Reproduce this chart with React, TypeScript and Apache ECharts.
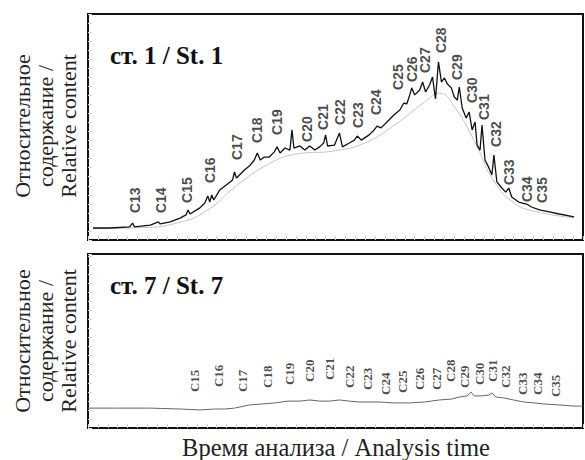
import React, { useEffect, useRef } from "react";
import * as echarts from "echarts";

// Station 1 chromatogram trace: [time (min), relative content]
const st1Time = [0.5, 2.2, 4.2, 4.5, 4.7, 6.3, 7.1, 7.3, 8.3, 9.3, 9.9, 10.1, 10.3, 11.3, 11.8, 12.1, 12.3, 12.5, 12.7, 13.3, 14.1, 14.6, 14.8, 15.0, 15.8, 16.3, 16.8, 17.1, 17.4, 17.8, 18.3, 18.8, 19.1, 19.4, 19.9, 20.4, 20.6, 20.8, 21.4, 21.9, 22.4, 22.9, 23.4, 23.8, 24.0, 24.2, 24.9, 25.4, 25.7, 26.4, 26.9, 27.2, 27.6, 28.4, 28.9, 29.2, 29.6, 30.4, 30.9, 31.5, 31.9, 32.2, 32.5, 32.7, 33.0, 33.5, 33.8, 34.1, 34.5, 34.8, 35.1, 35.4, 35.7, 36.0, 36.3, 36.7, 37.0, 37.3, 37.5, 37.8, 38.2, 38.5, 38.8, 39.1, 39.3, 39.6, 39.8, 40.1, 40.5, 40.8, 41.0, 41.3, 41.8, 42.2, 42.5, 42.8, 43.5, 44.3, 44.8, 45.6, 46.6, 47.6, 49.1];
const st1Value = [5.3, 5.3, 5.8, 7.5, 5.8, 6.6, 8.0, 7.1, 8.0, 9.7, 11.1, 13.3, 11.5, 14.2, 16.4, 19.5, 16.8, 19.9, 17.7, 22.1, 24.8, 26.5, 30.1, 27.4, 31.0, 32.7, 35.4, 38.5, 35.4, 36.7, 36.7, 38.9, 41.2, 38.5, 40.7, 39.8, 48.7, 40.7, 41.6, 39.8, 41.6, 39.8, 41.2, 42.9, 46.5, 41.6, 42.0, 47.3, 41.2, 42.9, 44.2, 46.0, 44.2, 46.5, 48.7, 50.4, 49.6, 53.1, 55.3, 57.5, 60.6, 60.2, 64.2, 67.3, 64.2, 66.4, 69.9, 65.5, 68.6, 72.1, 62.4, 78.8, 69.9, 71.7, 69.0, 67.3, 63.3, 61.9, 67.7, 58.4, 54.0, 56.6, 48.7, 52.2, 42.0, 39.8, 50.9, 35.4, 31.9, 28.8, 37.6, 25.7, 23.0, 21.2, 23.0, 19.0, 16.8, 15.9, 14.6, 13.3, 12.4, 11.5, 10.2];

// Station 1 unresolved hump (grey envelope)
const st1BaseTime = [0.5, 5, 9, 12, 15, 18, 21, 25, 28, 31, 34, 35.5, 37, 39, 41, 43, 45, 49.1];
const st1BaseValue = [5, 5.4, 7.5, 13, 24, 33, 38, 39.5, 43, 51, 61, 65, 59, 44, 26, 16.5, 12.8, 9.8];

// Station 7 chromatogram trace
const st7Time = [0, 3.2, 6.3, 9.3, 11.3, 12.8, 13.8, 14.8, 16.3, 17.5, 18.9, 20.2, 21.4, 22.4, 23.4, 24.4, 25.4, 26.4, 27.4, 29.4, 30.9, 32.5, 34.0, 35.5, 36.7, 37.5, 38.3, 38.7, 39.0, 39.7, 40.5, 40.8, 41.2, 42.0, 43.0, 44.0, 45.1, 46.1, 47.6, 49.1, 50];
const st7Value = [8.8, 8.8, 8.8, 8.4, 8.0, 8.4, 8.4, 8.8, 10.2, 10.6, 11.1, 11.9, 11.9, 12.4, 11.9, 11.9, 12.4, 11.9, 11.5, 11.5, 11.1, 11.1, 11.5, 12.4, 12.8, 13.7, 14.2, 15.9, 14.2, 14.2, 14.6, 15.5, 13.7, 13.3, 12.4, 11.5, 11.1, 10.6, 10.2, 9.7, 9.7];

// Peak labels (n-alkanes): name, retention time, label base height
const st1Peaks = ["C13", "C14", "C15", "C16", "C17", "C18", "C19", "C20", "C21", "C22", "C23", "C24", "C25", "C26", "C27", "C28", "C29", "C30", "C31", "C32", "C33", "C34", "C35"];
const st1PeakTime = [4.7, 7.4, 10.0, 12.3, 15.0, 17.1, 19.1, 22.1, 23.7, 25.5, 27.3, 29.1, 31.3, 32.7, 34.0, 35.7, 37.3, 38.8, 40.0, 41.2, 42.5, 44.3, 45.9];
const st1PeakLabelY = [11.9, 11.9, 16.4, 25.2, 35.4, 42.9, 46.5, 43.4, 48.7, 50.9, 49.6, 55.3, 66.4, 69.9, 73.9, 82.7, 70.8, 60.6, 53.1, 41.2, 24.3, 16.8, 16.4];

const st7Peaks = ["C15", "C16", "C17", "C18", "C19", "C20", "C21", "C22", "C23", "C24", "C25", "C26", "C27", "C28", "C29", "C30", "C31", "C32", "C33", "C34", "C35"];
const st7PeakTime = [10.8, 13.2, 15.6, 18.1, 20.4, 22.4, 24.4, 26.4, 28.2, 30.0, 31.8, 33.5, 35.2, 36.6, 38.0, 39.5, 40.9, 42.2, 43.9, 45.4, 47.2];
const st7PeakLabelY = [15.9, 18.1, 15.9, 17.7, 19.0, 20.4, 21.2, 17.7, 16.8, 14.6, 15.5, 16.8, 16.8, 20.4, 17.7, 19.0, 20.4, 17.7, 14.6, 14.6, 13.7];

const panelTitles = ["ст. 1 / St. 1", "ст. 7 / St. 7"];
const yTitleLines = ["Относительное", "содержание /", "Relative content"];
const xTitle = "Время анализа / Analysis time";

const SERIF = "'Times New Roman', 'Liberation Serif', 'DejaVu Serif', serif";

const zip = (a: number[], b: number[]) => a.map((v, i) => [v, b[i]]);

export default function App() {
  const ref = useRef<HTMLDivElement>(null);
  useEffect(() => {
    if (!ref.current) return;
    const chart = echarts.init(ref.current, undefined, { renderer: "svg" });

    const axisX = (gridIndex: number) => ({
      type: "value",
      gridIndex,
      min: 0,
      max: 50,
      interval: 1,
      axisLine: { show: false },
      axisLabel: { show: false },
      splitLine: { show: false },
      axisTick: { show: true, inside: true, length: 4, lineStyle: { color: "#d2d2d2", width: 1 } },
    });
    const axisY = (gridIndex: number, max: number) => ({
      type: "value",
      gridIndex,
      min: 0,
      max,
      interval: 4,
      axisLine: { show: false },
      axisLabel: { show: false },
      splitLine: { show: false },
      axisTick: { show: true, inside: true, length: 4, lineStyle: { color: "#dadada", width: 1 } },
    });

    const labelSeries = (xi: number, names: string[], times: number[], ys: number[], size: number, family: string) => ({
      type: "scatter",
      xAxisIndex: xi,
      yAxisIndex: xi,
      symbolSize: 0,
      silent: true,
      data: names.map((n, i) => ({ name: n, value: [times[i], ys[i]] })),
      label: {
        show: true,
        position: "inside",
        rotate: 90,
        align: "left",
        verticalAlign: "middle",
        formatter: "{b}",
        fontFamily: family,
        fontWeight: "bold",
        fontSize: size,
        color: "#1a1a1a",
      },
    });

    const yTitle = (cy: number) =>
      yTitleLines.map((t, i) => ({
        type: "text",
        x: 22 + i * 23,
        y: cy,
        rotation: Math.PI / 2,
        style: {
          text: t,
          fontFamily: SERIF,
          fontWeight: "normal",
          fontSize: 22,
          fill: "#222",
          textAlign: "center",
          textVerticalAlign: "middle",
        },
      }));

    chart.setOption({
      animation: false,
      backgroundColor: "#fff",
      grid: [
        { left: 88, top: 14, width: 495, height: 226, show: true, borderColor: "#111", borderWidth: 2, backgroundColor: "#fff" },
        { left: 88, top: 254, width: 495, height: 174, show: true, borderColor: "#111", borderWidth: 2, backgroundColor: "#fff" },
      ],
      xAxis: [axisX(0), axisX(1)],
      yAxis: [axisY(0, 100), axisY(1, 77)],
      series: [
        {
          type: "line",
          xAxisIndex: 0,
          yAxisIndex: 0,
          data: zip(st1BaseTime, st1BaseValue),
          smooth: true,
          symbol: "none",
          silent: true,
          lineStyle: { color: "#c4c4c4", width: 1 },
        },
        {
          type: "line",
          xAxisIndex: 0,
          yAxisIndex: 0,
          data: zip(st1Time, st1Value),
          symbol: "none",
          silent: true,
          lineStyle: { color: "#111", width: 1.3 },
        },
        {
          type: "line",
          xAxisIndex: 1,
          yAxisIndex: 1,
          data: zip(st7Time, st7Value),
          symbol: "none",
          silent: true,
          lineStyle: { color: "#666", width: 1 },
        },
        labelSeries(0, st1Peaks, st1PeakTime, st1PeakLabelY, 14, "Liberation Sans"),
        labelSeries(1, st7Peaks, st7PeakTime, st7PeakLabelY, 13, SERIF),
      ],
      graphic: [
        {
          type: "text",
          x: 110,
          y: 55,
          style: { text: panelTitles[0], fontFamily: SERIF, fontWeight: "bold", fontSize: 25, fill: "#111", textVerticalAlign: "middle" },
        },
        {
          type: "text",
          x: 110,
          y: 285,
          style: { text: panelTitles[1], fontFamily: SERIF, fontWeight: "bold", fontSize: 25, fill: "#111", textVerticalAlign: "middle" },
        },
        ...yTitle(126),
        ...yTitle(341),
        {
          type: "text",
          x: 336,
          y: 447,
          style: { text: xTitle, fontFamily: SERIF, fontWeight: "normal", fontSize: 24.5, fill: "#222", textAlign: "center", textVerticalAlign: "middle" },
        },
      ],
    });
    return () => chart.dispose();
  }, []);
  return <div ref={ref} style={{ width: 585, height: 460, position: "absolute", left: 0, top: 0 }} />;
}
